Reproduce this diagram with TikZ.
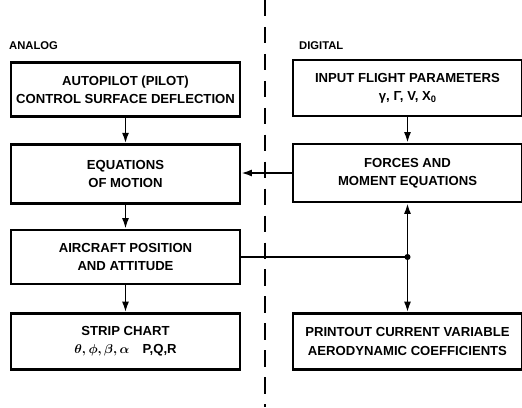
\documentclass[tikz,border=0pt]{standalone}
\usepackage{fontspec}
\setmainfont{Liberation Sans}
\usetikzlibrary{arrows.meta}

\begin{document}
\begin{tikzpicture}[x=0.03cm, y=-0.03cm,
    box/.style={draw, line width=2.2pt, minimum width=6.87cm, minimum height=1.62cm,
        align=center, font=\fontsize{11.2}{15.5}\selectfont\bfseries},
    arr/.style={line width=1.6pt, -{Latex[length=9pt,width=6pt]}},
    link/.style={line width=1.6pt},
    side/.style={anchor=west, font=\fontsize{9.6}{11}\selectfont\bfseries}]
    \useasboundingbox (0,0) rectangle (522,407);

    % Divider
    \coordinate (top) at (265,0);
    \coordinate (bottom) at (265,407);
    \draw[line width=1.8pt, dash pattern=on 14pt off 9pt] (top) -- (bottom);

    % Headings
    \node[side] (analog) at (5,46) {ANALOG};
    \node[side] (digital) at (295,46) {DIGITAL};

    % Analog side
    \node[box] (autopilot) at (125.5,89.5) {AUTOPILOT (PILOT)\\CONTROL SURFACE DEFLECTION};
    \node[box, minimum height=1.76cm] (motion) at (125.5,174) {EQUATIONS\\OF MOTION};
    \node[box] (position) at (125.5,257) {AIRCRAFT POSITION\\AND ATTITUDE};
    \node[box, minimum height=1.68cm] (chart) at (125.5,341.5) {STRIP CHART\\{\boldmath$\theta,\phi,\beta,\alpha$}\quad P,Q,R};

    % Digital side
    \node[box, minimum height=1.68cm] (input) at (407.5,88) {INPUT FLIGHT PARAMETERS\\γ, Γ, V, X\raisebox{-0.35ex}{\footnotesize 0}};
    \node[box, minimum height=1.74cm] (forces) at (407.5,173) {FORCES AND\\MOMENT EQUATIONS};
    \node[box, minimum height=1.68cm] (printout) at (407.5,341.5) {PRINTOUT CURRENT VARIABLE\\AERODYNAMIC COEFFICIENTS};

    % Connections
    \draw[arr] (autopilot) -- (motion);
    \draw[arr] (motion) -- (position);
    \draw[arr] (position) -- (chart);
    \draw[arr] (input) -- (forces);
    \draw[arr] (forces.west) -- (forces.west -| motion.east);
    \coordinate (split) at (forces.south |- position.east);
    \draw[link] (position.east) -- (split);
    \draw[arr] (split) -- (forces.south);
    \draw[arr] (split) -- (printout.north);
    \fill (split) circle (2.6pt);
\end{tikzpicture}
\end{document}
